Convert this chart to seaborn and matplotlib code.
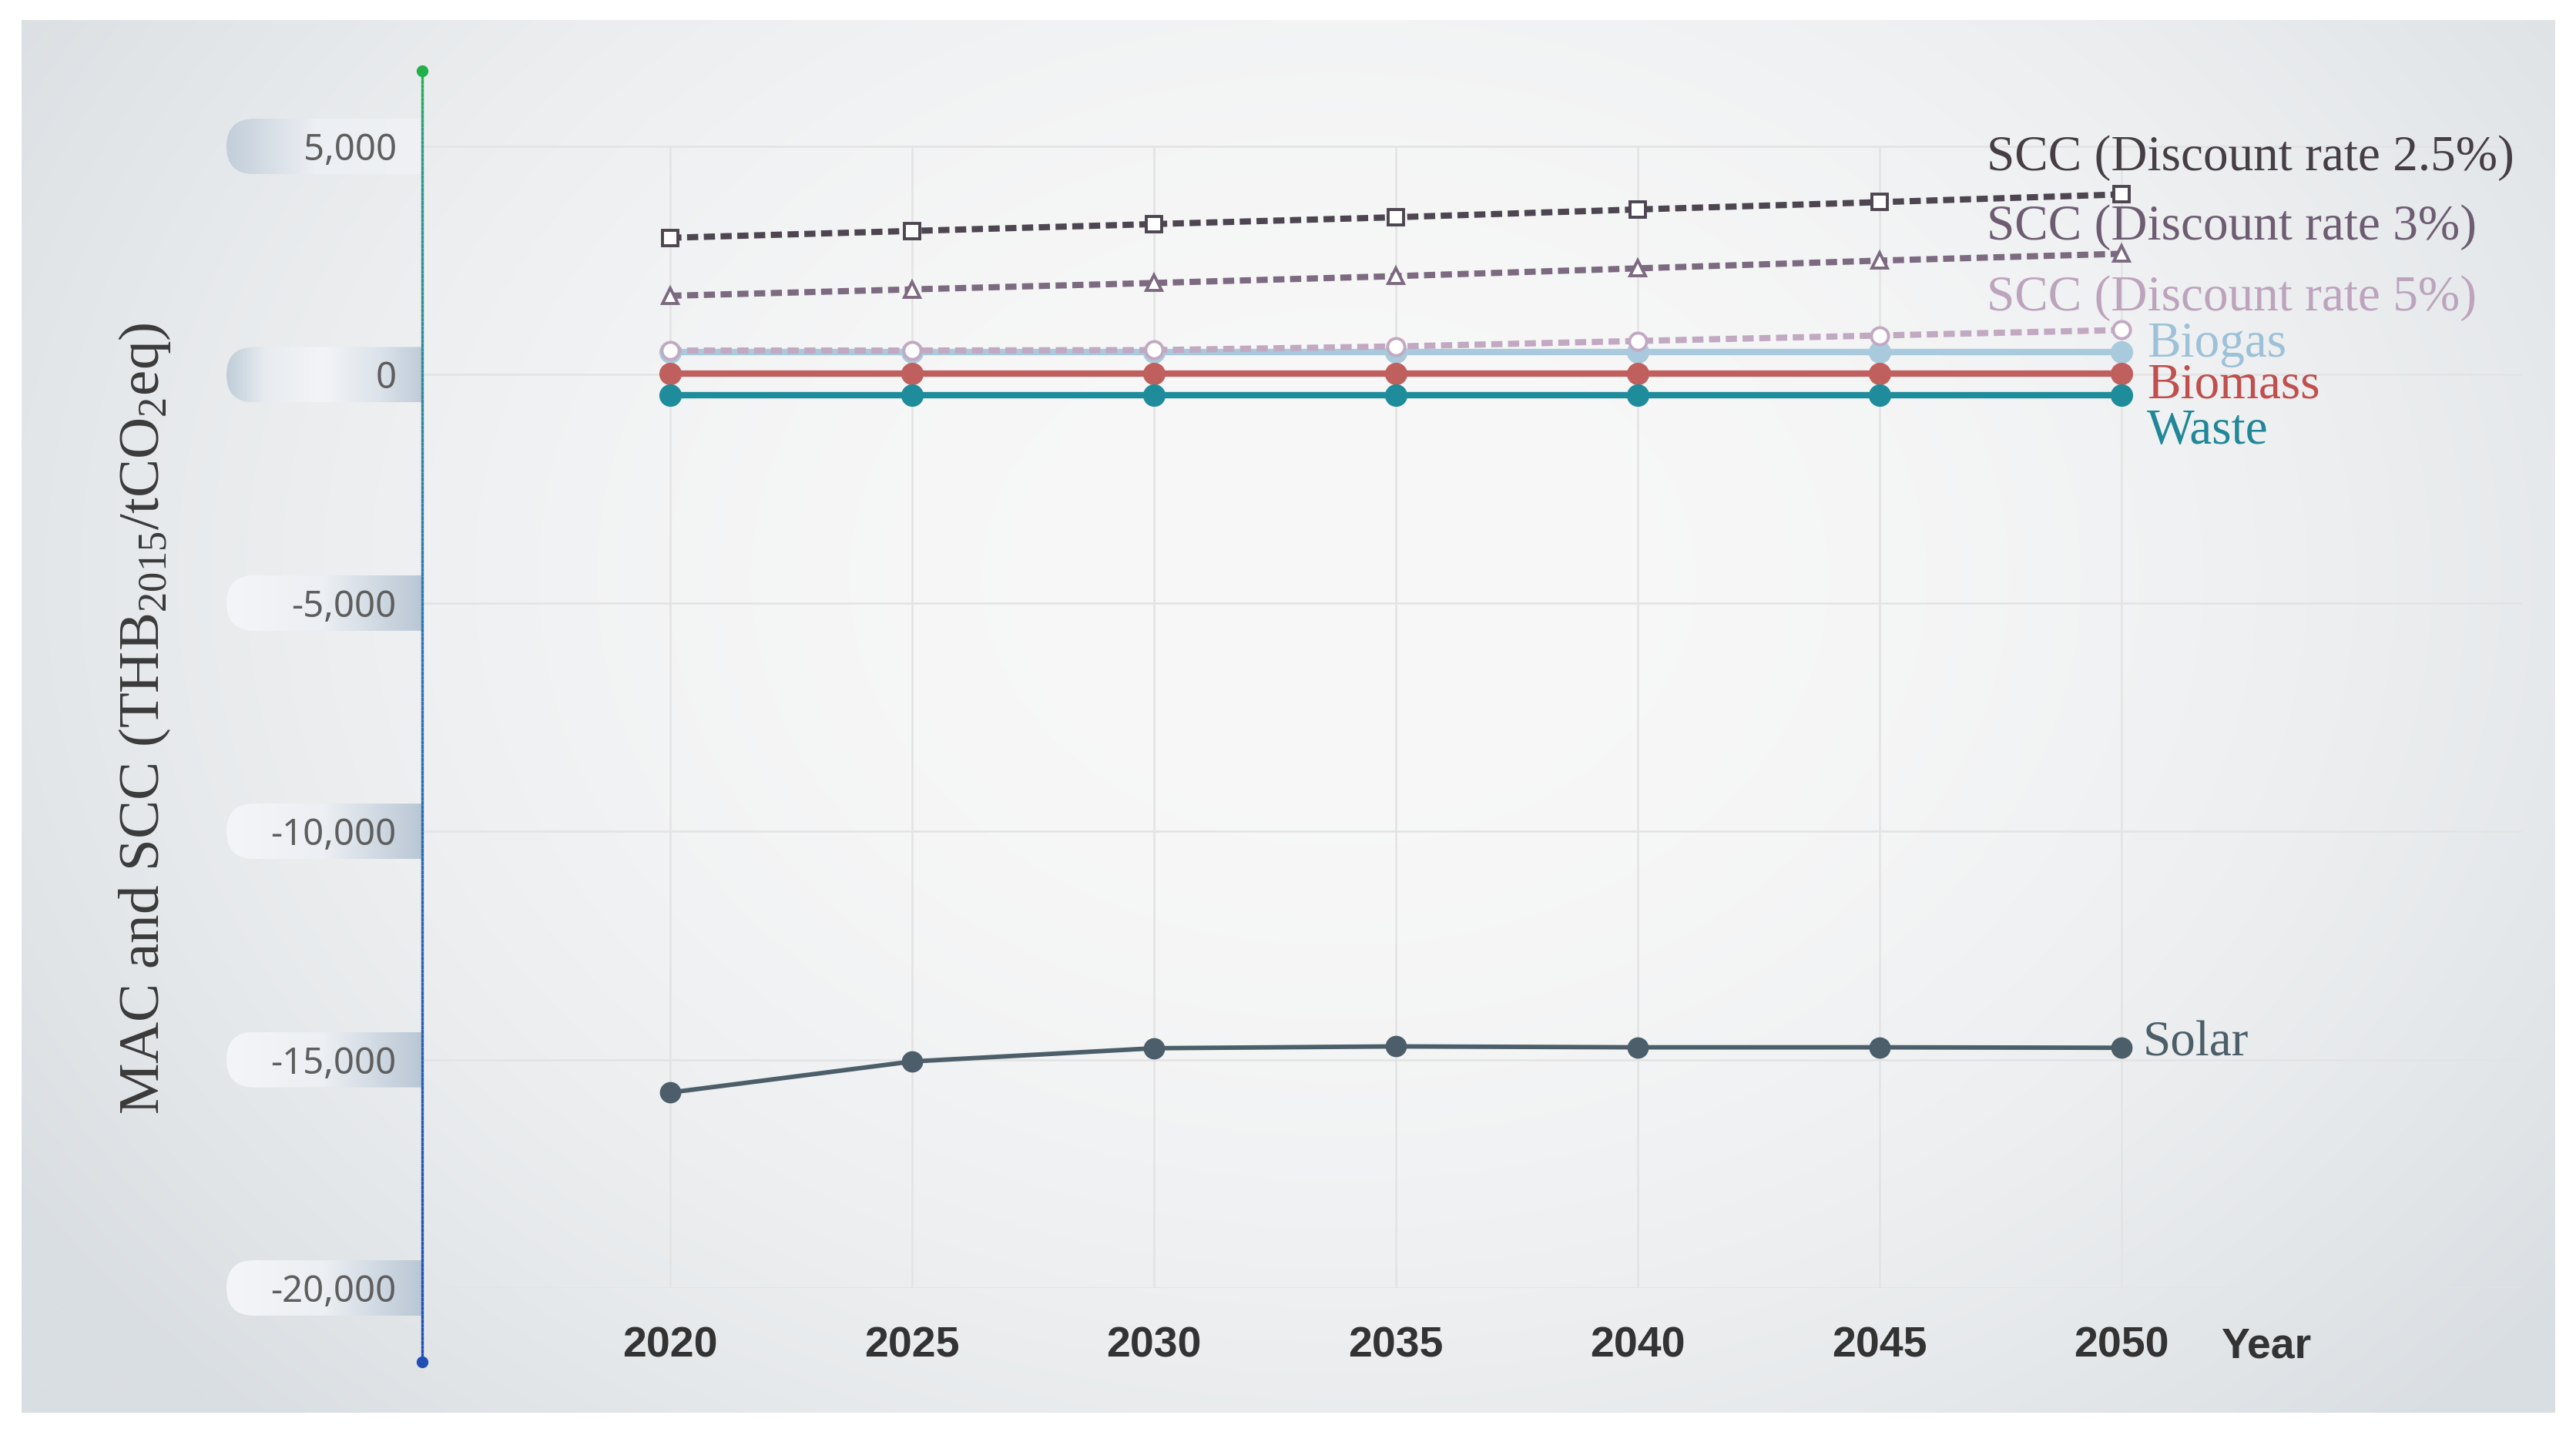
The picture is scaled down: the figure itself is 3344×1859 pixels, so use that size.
import numpy as np
import matplotlib.pyplot as plt
import matplotlib.colors as mcolors
from matplotlib.collections import LineCollection
from matplotlib.patches import FancyBboxPatch
import seaborn as sns

years = [2020, 2025, 2030, 2035, 2040, 2045, 2050]
scc_25 = [3000, 3150, 3300, 3450, 3620, 3780, 3950]
scc_3 = [1730, 1870, 2010, 2160, 2330, 2500, 2650]
scc_5 = [530, 530, 540, 620, 740, 860, 980]
biogas = [500, 500, 500, 500, 500, 500, 500]
biomass = [20, 20, 20, 20, 20, 20, 20]
waste = [-450, -450, -450, -450, -450, -450, -450]
solar = [-15720, -15040, -14750, -14710, -14730, -14730, -14740]

y_ticks = [5000, 0, -5000, -10000, -15000, -20000]
y_ticklabels = ["5,000", "0", "-5,000", "-10,000", "-15,000", "-20,000"]

sns.set_theme(style="white")
plt.rcParams["font.family"] = ["Liberation Serif", "DejaVu Serif"]
plt.rcParams["mathtext.fontset"] = "custom"
plt.rcParams["mathtext.rm"] = "Liberation Serif"
plt.rcParams["mathtext.it"] = "Liberation Serif:italic"

W_PX, H_PX, DPI = 3344, 1859, 200
fig = plt.figure(figsize=(W_PX / DPI, H_PX / DPI), dpi=DPI)
fig.patch.set_facecolor("white")

# background panel
bg = fig.add_axes([0, 0, 1, 1], zorder=0)
bg.set_xlim(0, W_PX)
bg.set_ylim(0, H_PX)
bg.axis("off")
gy, gx = np.mgrid[0:1:400j, 0:1:720j]
dist = np.sqrt(((gx - 0.52) / 0.62) ** 2 + ((gy - 0.40) / 0.85) ** 2)
t = np.clip(dist, 0, 1) ** 2.2
light = np.array(mcolors.to_rgb("#f8f8f8"))
dark = np.array(mcolors.to_rgb("#d9dee2"))
bg.imshow(light + (dark - light) * t[..., None], extent=(28, 3317, 25, 1833),
          origin="upper", aspect="auto", interpolation="bilinear")

ax = fig.add_axes([0.1639, 0.1006, 0.8152, 0.8499], zorder=1)
ax.set_facecolor("none")
x_lo, x_hi = 2014.87, 2058.29
ax.set_xlim(x_lo, x_hi)
ax.set_ylim(-20000, 6655)
for s in ax.spines.values():
    s.set_visible(False)
ax.grid(False)

# grid
ax.hlines(y_ticks, x_lo, x_hi, color="#e3e3e3", lw=0.9, zorder=0)
ax.vlines(years, -20000, 5000, color="#e3e3e3", lw=0.9, zorder=0)

dash = (0, (1.8, 0.9))
series = [
    ("Biogas", biogas, "#a9c9dd", "#9cc1d8", "o", "-", 3.0, 10.5, None, (12, 3.5)),
    ("Biomass", biomass, "#c0605e", "#c04f4e", "o", "-", 3.0, 10.5, None, (12, -5.5)),
    ("Waste", waste, "#1f8c9c", "#1f8797", "o", "-", 3.0, 10.5, None, (12, -17)),
    ("Solar", solar, "#4b5e69", "#4b5e69", "o", "-", 2.1, 10, None, (10, 2)),
    ("SCC (Discount rate 5%)", scc_5, "#c2a9c2", "#bda4bd", "o", dash, 2.9, 8, "white", (-63, 15)),
    ("SCC (Discount rate 3%)", scc_3, "#7c6a80", "#6e5d72", "^", dash, 2.9, 7.5, "white", (-63, 12.5)),
    ("SCC (Discount rate 2.5%)", scc_25, "#4d4550", "#463e45", "s", dash, 2.9, 7, "white", (-63, 17)),
]

for name, vals, col, tcol, mk, ls, lw, ms, mfc, off in series:
    sns.lineplot(x=years, y=vals, ax=ax, color=col, marker=mk, linestyle=ls,
                 linewidth=lw, markersize=ms,
                 markerfacecolor=mfc if mfc else col,
                 markeredgecolor=col, markeredgewidth=1.4 if mfc else 0,
                 zorder=3)
    ax.annotate(name, xy=(years[-1], vals[-1]), xytext=off,
                textcoords="offset points", ha="left", va="center",
                fontsize=23.5, color=tcol, zorder=5)

# gradient axis line
ys = np.linspace(-21619, 6655, 300)
segs = [[(x_lo, ys[i]), (x_lo, ys[i + 1])] for i in range(len(ys) - 1)]
frac = np.linspace(0, 1, len(segs))
stops = [(0, "#1f4fb5"), (0.6, "#2d78b0"), (0.94, "#2a9a8c"), (1.0, "#22b04b")]
cols = np.array([mcolors.to_rgb(c) for _, c in stops])
pos = [p for p, _ in stops]
seg_cols = np.stack([np.interp(frac, pos, cols[:, i]) for i in range(3)], axis=-1)
lc = LineCollection(segs, colors=seg_cols, linewidths=1.2, clip_on=False, zorder=4)
ax.add_collection(lc)
ax.plot([x_lo], [6655], "o", color="#22b04b", ms=4.5, clip_on=False, zorder=5)
ax.plot([x_lo], [-21619], "o", color="#1f4fb5", ms=4.5, clip_on=False, zorder=5)

# ticks
ax.set_yticks(y_ticks)
ax.set_yticklabels(y_ticklabels, fontfamily=["Noto Sans", "DejaVu Sans"],
                   fontsize=17, color="#5e5e5e")
ax.tick_params(axis="y", length=0, pad=12)
narrow = ["Liberation Sans Narrow", "Liberation Sans", "DejaVu Sans"]
ax.set_xticks(years)
ax.set_xticklabels([str(y) for y in years], fontfamily=narrow,
                   fontweight="bold", fontsize=20, color="#333333")
ax.tick_params(axis="x", length=0, pad=18)
ax.set_xlabel("Year", fontfamily=narrow, fontweight="bold", fontsize=20,
              color="#333333")
ax.xaxis.set_label_coords(0.878, -0.032)

ax.set_ylabel(r"MAC and SCC (THB$_{\mathrm{2015}}$/tCO$_{\mathrm{2}}$eq)",
              fontsize=27, color="#3a3a3a")
ax.yaxis.label.set(rotation_mode="anchor", ha="center", va="center")
ax.yaxis.set_label_coords((88 - 257) / 1278, 0.468)


def grad(stops_):
    p = [s[0] for s in stops_]
    c = np.array([mcolors.to_rgb(s[1]) for s in stops_])
    tt = np.linspace(0, 1, 256)
    return np.stack([np.interp(tt, p, c[:, i]) for i in range(3)], axis=-1)[None]


# pill backgrounds behind the y tick labels
pill_left, pill_right, pill_h = 294, 548, 72
for v in y_ticks:
    cy = ax.transData.transform((x_lo, v))[1]
    if v > 0:
        st = [(0, "#c2ceda"), (0.45, "#eceff3"), (1, "#eff1f4")]
    elif v == 0:
        st = [(0, "#c0cdd9"), (0.2, "#e8ecf0"), (0.5, "#f3f4f7"), (0.78, "#dce3ea"), (1, "#c0ccd8")]
    else:
        st = [(0, "#f4f5f8"), (0.5, "#eceff3"), (1, "#b9c7d5")]
    patch = FancyBboxPatch((pill_left, cy - pill_h / 2), pill_right + 60 - pill_left, pill_h,
                           boxstyle=f"round,pad=0,rounding_size={pill_h / 2}",
                           facecolor="none", edgecolor="none")
    bg.add_patch(patch)
    im = bg.imshow(grad(st), extent=(pill_left, pill_right, cy - pill_h / 2, cy + pill_h / 2),
                   aspect="auto", interpolation="bilinear", zorder=2)
    im.set_clip_path(patch)

fig.savefig("out.png", dpi=DPI)
